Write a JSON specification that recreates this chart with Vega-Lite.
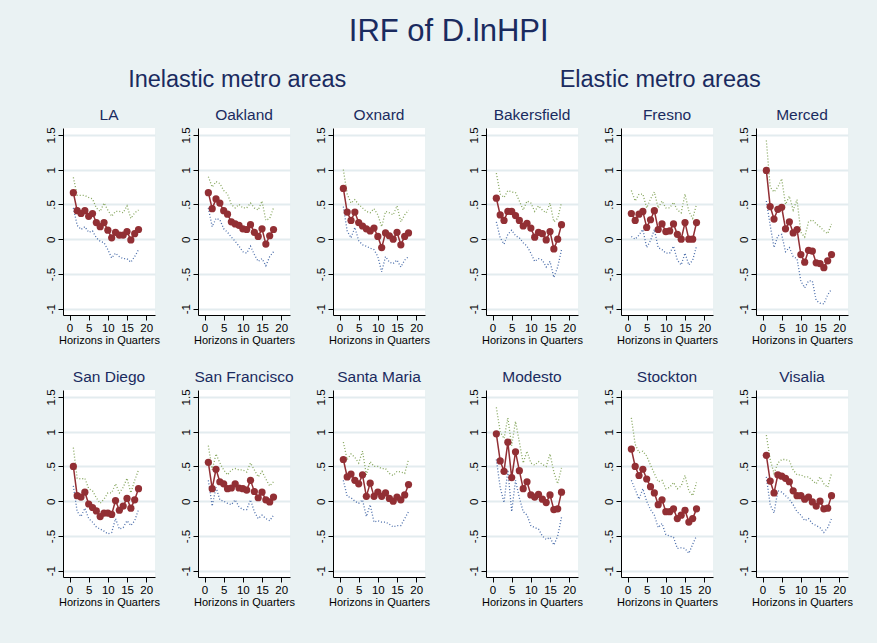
{
  "$schema": "https://vega.github.io/schema/vega-lite/v6.json",
  "background": "#EAF2F3",
  "padding": {"left": 45, "top": 15, "right": 24, "bottom": 44},
  "title": {"text": "IRF of D.lnHPI", "fontSize": 31, "font": "Liberation Sans", "fontWeight": "normal", "color": "#1A2B5F", "anchor": "middle", "offset": 20},
  "spacing": 38,
  "datasets": {
    "irf": [
      {"group":"I","city":"LA","h":1,"irf":0.67,"lo":0.45,"hi":0.89},
      {"group":"I","city":"LA","h":2,"irf":0.41,"lo":0.2,"hi":0.63},
      {"group":"I","city":"LA","h":3,"irf":0.37,"lo":0.14,"hi":0.63},
      {"group":"I","city":"LA","h":4,"irf":0.41,"lo":0.18,"hi":0.63},
      {"group":"I","city":"LA","h":5,"irf":0.33,"lo":0.1,"hi":0.6},
      {"group":"I","city":"LA","h":6,"irf":0.37,"lo":0.12,"hi":0.58},
      {"group":"I","city":"LA","h":7,"irf":0.24,"lo":0.02,"hi":0.45},
      {"group":"I","city":"LA","h":8,"irf":0.18,"lo":-0.03,"hi":0.4},
      {"group":"I","city":"LA","h":9,"irf":0.24,"lo":-0.05,"hi":0.52},
      {"group":"I","city":"LA","h":10,"irf":0.13,"lo":-0.15,"hi":0.42},
      {"group":"I","city":"LA","h":11,"irf":0.02,"lo":-0.27,"hi":0.33},
      {"group":"I","city":"LA","h":12,"irf":0.10,"lo":-0.2,"hi":0.4},
      {"group":"I","city":"LA","h":13,"irf":0.06,"lo":-0.25,"hi":0.4},
      {"group":"I","city":"LA","h":14,"irf":0.06,"lo":-0.28,"hi":0.38},
      {"group":"I","city":"LA","h":15,"irf":0.11,"lo":-0.28,"hi":0.48},
      {"group":"I","city":"LA","h":16,"irf":-0.01,"lo":-0.33,"hi":0.3},
      {"group":"I","city":"LA","h":17,"irf":0.08,"lo":-0.25,"hi":0.38},
      {"group":"I","city":"LA","h":18,"irf":0.14,"lo":-0.15,"hi":0.42},

      {"group":"I","city":"Oakland","h":1,"irf":0.67,"lo":0.45,"hi":0.9},
      {"group":"I","city":"Oakland","h":2,"irf":0.44,"lo":0.18,"hi":0.75},
      {"group":"I","city":"Oakland","h":3,"irf":0.58,"lo":0.3,"hi":0.83},
      {"group":"I","city":"Oakland","h":4,"irf":0.52,"lo":0.28,"hi":0.8},
      {"group":"I","city":"Oakland","h":5,"irf":0.41,"lo":0.15,"hi":0.7},
      {"group":"I","city":"Oakland","h":6,"irf":0.36,"lo":0.1,"hi":0.65},
      {"group":"I","city":"Oakland","h":7,"irf":0.25,"lo":0.03,"hi":0.5},
      {"group":"I","city":"Oakland","h":8,"irf":0.22,"lo":-0.03,"hi":0.45},
      {"group":"I","city":"Oakland","h":9,"irf":0.20,"lo":-0.1,"hi":0.5},
      {"group":"I","city":"Oakland","h":10,"irf":0.15,"lo":-0.18,"hi":0.45},
      {"group":"I","city":"Oakland","h":11,"irf":0.14,"lo":-0.2,"hi":0.45},
      {"group":"I","city":"Oakland","h":12,"irf":0.21,"lo":-0.1,"hi":0.52},
      {"group":"I","city":"Oakland","h":13,"irf":0.10,"lo":-0.22,"hi":0.45},
      {"group":"I","city":"Oakland","h":14,"irf":0.04,"lo":-0.32,"hi":0.42},
      {"group":"I","city":"Oakland","h":15,"irf":0.15,"lo":-0.28,"hi":0.55},
      {"group":"I","city":"Oakland","h":16,"irf":-0.07,"lo":-0.38,"hi":0.27},
      {"group":"I","city":"Oakland","h":17,"irf":0.05,"lo":-0.25,"hi":0.3},
      {"group":"I","city":"Oakland","h":18,"irf":0.14,"lo":-0.18,"hi":0.45},

      {"group":"I","city":"Oxnard","h":1,"irf":0.73,"lo":0.47,"hi":1.0},
      {"group":"I","city":"Oxnard","h":2,"irf":0.39,"lo":0.12,"hi":0.65},
      {"group":"I","city":"Oxnard","h":3,"irf":0.27,"lo":0.02,"hi":0.52},
      {"group":"I","city":"Oxnard","h":4,"irf":0.39,"lo":0.17,"hi":0.57},
      {"group":"I","city":"Oxnard","h":5,"irf":0.24,"lo":-0.02,"hi":0.5},
      {"group":"I","city":"Oxnard","h":6,"irf":0.19,"lo":-0.08,"hi":0.45},
      {"group":"I","city":"Oxnard","h":7,"irf":0.15,"lo":-0.1,"hi":0.4},
      {"group":"I","city":"Oxnard","h":8,"irf":0.12,"lo":-0.13,"hi":0.38},
      {"group":"I","city":"Oxnard","h":9,"irf":0.16,"lo":-0.15,"hi":0.44},
      {"group":"I","city":"Oxnard","h":10,"irf":0.04,"lo":-0.25,"hi":0.35},
      {"group":"I","city":"Oxnard","h":11,"irf":-0.12,"lo":-0.47,"hi":0.18},
      {"group":"I","city":"Oxnard","h":12,"irf":0.09,"lo":-0.25,"hi":0.4},
      {"group":"I","city":"Oxnard","h":13,"irf":0.05,"lo":-0.33,"hi":0.38},
      {"group":"I","city":"Oxnard","h":14,"irf":0.0,"lo":-0.35,"hi":0.35},
      {"group":"I","city":"Oxnard","h":15,"irf":0.10,"lo":-0.3,"hi":0.48},
      {"group":"I","city":"Oxnard","h":16,"irf":-0.08,"lo":-0.4,"hi":0.25},
      {"group":"I","city":"Oxnard","h":17,"irf":0.04,"lo":-0.3,"hi":0.35},
      {"group":"I","city":"Oxnard","h":18,"irf":0.09,"lo":-0.25,"hi":0.42},

      {"group":"I","city":"San Diego","h":1,"irf":0.50,"lo":0.22,"hi":0.77},
      {"group":"I","city":"San Diego","h":2,"irf":0.08,"lo":-0.15,"hi":0.33},
      {"group":"I","city":"San Diego","h":3,"irf":0.06,"lo":-0.22,"hi":0.32},
      {"group":"I","city":"San Diego","h":4,"irf":0.13,"lo":-0.1,"hi":0.33},
      {"group":"I","city":"San Diego","h":5,"irf":-0.04,"lo":-0.25,"hi":0.18},
      {"group":"I","city":"San Diego","h":6,"irf":-0.09,"lo":-0.3,"hi":0.15},
      {"group":"I","city":"San Diego","h":7,"irf":-0.14,"lo":-0.37,"hi":0.05},
      {"group":"I","city":"San Diego","h":8,"irf":-0.22,"lo":-0.4,"hi":-0.03},
      {"group":"I","city":"San Diego","h":9,"irf":-0.17,"lo":-0.43,"hi":0.03},
      {"group":"I","city":"San Diego","h":10,"irf":-0.17,"lo":-0.47,"hi":0.12},
      {"group":"I","city":"San Diego","h":11,"irf":-0.19,"lo":-0.45,"hi":0.12},
      {"group":"I","city":"San Diego","h":12,"irf":0.01,"lo":-0.25,"hi":0.25},
      {"group":"I","city":"San Diego","h":13,"irf":-0.13,"lo":-0.4,"hi":0.12},
      {"group":"I","city":"San Diego","h":14,"irf":-0.07,"lo":-0.38,"hi":0.2},
      {"group":"I","city":"San Diego","h":15,"irf":0.04,"lo":-0.28,"hi":0.33},
      {"group":"I","city":"San Diego","h":16,"irf":-0.10,"lo":-0.35,"hi":0.12},
      {"group":"I","city":"San Diego","h":17,"irf":0.02,"lo":-0.28,"hi":0.3},
      {"group":"I","city":"San Diego","h":18,"irf":0.18,"lo":-0.12,"hi":0.45},

      {"group":"I","city":"San Francisco","h":1,"irf":0.56,"lo":0.3,"hi":0.8},
      {"group":"I","city":"San Francisco","h":2,"irf":0.18,"lo":-0.07,"hi":0.45},
      {"group":"I","city":"San Francisco","h":3,"irf":0.46,"lo":0.2,"hi":0.68},
      {"group":"I","city":"San Francisco","h":4,"irf":0.28,"lo":0.02,"hi":0.55},
      {"group":"I","city":"San Francisco","h":5,"irf":0.25,"lo":0.0,"hi":0.45},
      {"group":"I","city":"San Francisco","h":6,"irf":0.18,"lo":-0.03,"hi":0.38},
      {"group":"I","city":"San Francisco","h":7,"irf":0.19,"lo":-0.05,"hi":0.45},
      {"group":"I","city":"San Francisco","h":8,"irf":0.25,"lo":0.02,"hi":0.47},
      {"group":"I","city":"San Francisco","h":9,"irf":0.19,"lo":-0.08,"hi":0.45},
      {"group":"I","city":"San Francisco","h":10,"irf":0.18,"lo":-0.12,"hi":0.45},
      {"group":"I","city":"San Francisco","h":11,"irf":0.16,"lo":-0.12,"hi":0.42},
      {"group":"I","city":"San Francisco","h":12,"irf":0.30,"lo":0.02,"hi":0.55},
      {"group":"I","city":"San Francisco","h":13,"irf":0.14,"lo":-0.15,"hi":0.45},
      {"group":"I","city":"San Francisco","h":14,"irf":0.05,"lo":-0.25,"hi":0.35},
      {"group":"I","city":"San Francisco","h":15,"irf":0.13,"lo":-0.2,"hi":0.43},
      {"group":"I","city":"San Francisco","h":16,"irf":0.02,"lo":-0.25,"hi":0.32},
      {"group":"I","city":"San Francisco","h":17,"irf":-0.01,"lo":-0.28,"hi":0.22},
      {"group":"I","city":"San Francisco","h":18,"irf":0.06,"lo":-0.2,"hi":0.28},

      {"group":"I","city":"Santa Maria","h":1,"irf":0.60,"lo":0.3,"hi":0.85},
      {"group":"I","city":"Santa Maria","h":2,"irf":0.35,"lo":0.07,"hi":0.6},
      {"group":"I","city":"Santa Maria","h":3,"irf":0.39,"lo":0.05,"hi":0.68},
      {"group":"I","city":"Santa Maria","h":4,"irf":0.30,"lo":0.0,"hi":0.63},
      {"group":"I","city":"Santa Maria","h":5,"irf":0.25,"lo":-0.03,"hi":0.55},
      {"group":"I","city":"Santa Maria","h":6,"irf":0.38,"lo":0.02,"hi":0.72},
      {"group":"I","city":"Santa Maria","h":7,"irf":0.07,"lo":-0.22,"hi":0.38},
      {"group":"I","city":"Santa Maria","h":8,"irf":0.26,"lo":-0.05,"hi":0.57},
      {"group":"I","city":"Santa Maria","h":9,"irf":0.07,"lo":-0.3,"hi":0.5},
      {"group":"I","city":"Santa Maria","h":10,"irf":0.13,"lo":-0.28,"hi":0.5},
      {"group":"I","city":"Santa Maria","h":11,"irf":0.07,"lo":-0.3,"hi":0.47},
      {"group":"I","city":"Santa Maria","h":12,"irf":0.12,"lo":-0.3,"hi":0.47},
      {"group":"I","city":"Santa Maria","h":13,"irf":0.04,"lo":-0.33,"hi":0.4},
      {"group":"I","city":"Santa Maria","h":14,"irf":0.0,"lo":-0.37,"hi":0.37},
      {"group":"I","city":"Santa Maria","h":15,"irf":0.06,"lo":-0.35,"hi":0.43},
      {"group":"I","city":"Santa Maria","h":16,"irf":0.02,"lo":-0.35,"hi":0.42},
      {"group":"I","city":"Santa Maria","h":17,"irf":0.09,"lo":-0.25,"hi":0.4},
      {"group":"I","city":"Santa Maria","h":18,"irf":0.24,"lo":-0.15,"hi":0.6},

      {"group":"E","city":"Bakersfield","h":1,"irf":0.59,"lo":0.25,"hi":0.95},
      {"group":"E","city":"Bakersfield","h":2,"irf":0.35,"lo":0.02,"hi":0.65},
      {"group":"E","city":"Bakersfield","h":3,"irf":0.27,"lo":-0.07,"hi":0.6},
      {"group":"E","city":"Bakersfield","h":4,"irf":0.40,"lo":0.07,"hi":0.7},
      {"group":"E","city":"Bakersfield","h":5,"irf":0.40,"lo":0.13,"hi":0.68},
      {"group":"E","city":"Bakersfield","h":6,"irf":0.34,"lo":0.05,"hi":0.67},
      {"group":"E","city":"Bakersfield","h":7,"irf":0.27,"lo":0.02,"hi":0.55},
      {"group":"E","city":"Bakersfield","h":8,"irf":0.19,"lo":-0.05,"hi":0.42},
      {"group":"E","city":"Bakersfield","h":9,"irf":0.23,"lo":-0.1,"hi":0.55},
      {"group":"E","city":"Bakersfield","h":10,"irf":0.16,"lo":-0.2,"hi":0.52},
      {"group":"E","city":"Bakersfield","h":11,"irf":0.03,"lo":-0.32,"hi":0.4},
      {"group":"E","city":"Bakersfield","h":12,"irf":0.10,"lo":-0.28,"hi":0.48},
      {"group":"E","city":"Bakersfield","h":13,"irf":0.08,"lo":-0.3,"hi":0.42},
      {"group":"E","city":"Bakersfield","h":14,"irf":-0.01,"lo":-0.4,"hi":0.38},
      {"group":"E","city":"Bakersfield","h":15,"irf":0.11,"lo":-0.32,"hi":0.52},
      {"group":"E","city":"Bakersfield","h":16,"irf":-0.14,"lo":-0.55,"hi":0.25},
      {"group":"E","city":"Bakersfield","h":17,"irf":0.0,"lo":-0.4,"hi":0.3},
      {"group":"E","city":"Bakersfield","h":18,"irf":0.21,"lo":-0.15,"hi":0.53},

      {"group":"E","city":"Fresno","h":1,"irf":0.37,"lo":0.04,"hi":0.7},
      {"group":"E","city":"Fresno","h":2,"irf":0.27,"lo":0.0,"hi":0.55},
      {"group":"E","city":"Fresno","h":3,"irf":0.36,"lo":0.06,"hi":0.65},
      {"group":"E","city":"Fresno","h":4,"irf":0.40,"lo":0.14,"hi":0.65},
      {"group":"E","city":"Fresno","h":5,"irf":0.17,"lo":-0.12,"hi":0.45},
      {"group":"E","city":"Fresno","h":6,"irf":0.28,"lo":-0.02,"hi":0.58},
      {"group":"E","city":"Fresno","h":7,"irf":0.41,"lo":0.14,"hi":0.68},
      {"group":"E","city":"Fresno","h":8,"irf":0.14,"lo":-0.12,"hi":0.45},
      {"group":"E","city":"Fresno","h":9,"irf":0.22,"lo":-0.15,"hi":0.55},
      {"group":"E","city":"Fresno","h":10,"irf":0.11,"lo":-0.2,"hi":0.45},
      {"group":"E","city":"Fresno","h":11,"irf":0.12,"lo":-0.2,"hi":0.45},
      {"group":"E","city":"Fresno","h":12,"irf":0.22,"lo":-0.1,"hi":0.53},
      {"group":"E","city":"Fresno","h":13,"irf":0.07,"lo":-0.3,"hi":0.42},
      {"group":"E","city":"Fresno","h":14,"irf":0.0,"lo":-0.37,"hi":0.38},
      {"group":"E","city":"Fresno","h":15,"irf":0.24,"lo":-0.2,"hi":0.65},
      {"group":"E","city":"Fresno","h":16,"irf":0.0,"lo":-0.37,"hi":0.4},
      {"group":"E","city":"Fresno","h":17,"irf":0.0,"lo":-0.3,"hi":0.3},
      {"group":"E","city":"Fresno","h":18,"irf":0.24,"lo":-0.1,"hi":0.5},

      {"group":"E","city":"Merced","h":1,"irf":0.99,"lo":0.55,"hi":1.42},
      {"group":"E","city":"Merced","h":2,"irf":0.47,"lo":0.2,"hi":0.75},
      {"group":"E","city":"Merced","h":3,"irf":0.29,"lo":-0.12,"hi":0.68},
      {"group":"E","city":"Merced","h":4,"irf":0.43,"lo":0.05,"hi":0.75},
      {"group":"E","city":"Merced","h":5,"irf":0.46,"lo":0.07,"hi":0.87},
      {"group":"E","city":"Merced","h":6,"irf":0.15,"lo":-0.18,"hi":0.5},
      {"group":"E","city":"Merced","h":7,"irf":0.25,"lo":-0.12,"hi":0.62},
      {"group":"E","city":"Merced","h":8,"irf":0.09,"lo":-0.25,"hi":0.42},
      {"group":"E","city":"Merced","h":9,"irf":0.14,"lo":-0.28,"hi":0.57},
      {"group":"E","city":"Merced","h":10,"irf":-0.22,"lo":-0.6,"hi":0.1},
      {"group":"E","city":"Merced","h":11,"irf":-0.33,"lo":-0.7,"hi":0.03},
      {"group":"E","city":"Merced","h":12,"irf":-0.16,"lo":-0.6,"hi":0.25},
      {"group":"E","city":"Merced","h":13,"irf":-0.17,"lo":-0.6,"hi":0.28},
      {"group":"E","city":"Merced","h":14,"irf":-0.34,"lo":-0.88,"hi":0.22},
      {"group":"E","city":"Merced","h":15,"irf":-0.35,"lo":-0.92,"hi":0.18},
      {"group":"E","city":"Merced","h":16,"irf":-0.41,"lo":-0.93,"hi":0.12},
      {"group":"E","city":"Merced","h":17,"irf":-0.31,"lo":-0.8,"hi":0.08},
      {"group":"E","city":"Merced","h":18,"irf":-0.22,"lo":-0.72,"hi":0.22},

      {"group":"E","city":"Modesto","h":1,"irf":0.97,"lo":0.6,"hi":1.35},
      {"group":"E","city":"Modesto","h":2,"irf":0.58,"lo":0.2,"hi":1.0},
      {"group":"E","city":"Modesto","h":3,"irf":0.43,"lo":-0.02,"hi":0.9},
      {"group":"E","city":"Modesto","h":4,"irf":0.85,"lo":0.45,"hi":1.2},
      {"group":"E","city":"Modesto","h":5,"irf":0.34,"lo":-0.15,"hi":0.8},
      {"group":"E","city":"Modesto","h":6,"irf":0.71,"lo":0.3,"hi":1.15},
      {"group":"E","city":"Modesto","h":7,"irf":0.44,"lo":0.05,"hi":0.85},
      {"group":"E","city":"Modesto","h":8,"irf":0.18,"lo":-0.15,"hi":0.55},
      {"group":"E","city":"Modesto","h":9,"irf":0.28,"lo":-0.2,"hi":0.72},
      {"group":"E","city":"Modesto","h":10,"irf":0.09,"lo":-0.35,"hi":0.55},
      {"group":"E","city":"Modesto","h":11,"irf":0.06,"lo":-0.38,"hi":0.52},
      {"group":"E","city":"Modesto","h":12,"irf":0.10,"lo":-0.4,"hi":0.57},
      {"group":"E","city":"Modesto","h":13,"irf":0.03,"lo":-0.5,"hi":0.53},
      {"group":"E","city":"Modesto","h":14,"irf":-0.02,"lo":-0.55,"hi":0.5},
      {"group":"E","city":"Modesto","h":15,"irf":0.09,"lo":-0.52,"hi":0.68},
      {"group":"E","city":"Modesto","h":16,"irf":-0.12,"lo":-0.63,"hi":0.42},
      {"group":"E","city":"Modesto","h":17,"irf":-0.11,"lo":-0.5,"hi":0.25},
      {"group":"E","city":"Modesto","h":18,"irf":0.13,"lo":-0.23,"hi":0.48},

      {"group":"E","city":"Stockton","h":1,"irf":0.75,"lo":0.3,"hi":1.2},
      {"group":"E","city":"Stockton","h":2,"irf":0.50,"lo":0.17,"hi":0.82},
      {"group":"E","city":"Stockton","h":3,"irf":0.37,"lo":0.03,"hi":0.7},
      {"group":"E","city":"Stockton","h":4,"irf":0.46,"lo":0.18,"hi":0.72},
      {"group":"E","city":"Stockton","h":5,"irf":0.32,"lo":0.0,"hi":0.65},
      {"group":"E","city":"Stockton","h":6,"irf":0.21,"lo":-0.12,"hi":0.52},
      {"group":"E","city":"Stockton","h":7,"irf":0.12,"lo":-0.2,"hi":0.4},
      {"group":"E","city":"Stockton","h":8,"irf":-0.05,"lo":-0.38,"hi":0.28},
      {"group":"E","city":"Stockton","h":9,"irf":0.02,"lo":-0.32,"hi":0.3},
      {"group":"E","city":"Stockton","h":10,"irf":-0.15,"lo":-0.48,"hi":0.18},
      {"group":"E","city":"Stockton","h":11,"irf":-0.15,"lo":-0.5,"hi":0.2},
      {"group":"E","city":"Stockton","h":12,"irf":-0.11,"lo":-0.52,"hi":0.27},
      {"group":"E","city":"Stockton","h":13,"irf":-0.25,"lo":-0.68,"hi":0.18},
      {"group":"E","city":"Stockton","h":14,"irf":-0.20,"lo":-0.67,"hi":0.22},
      {"group":"E","city":"Stockton","h":15,"irf":-0.13,"lo":-0.68,"hi":0.37},
      {"group":"E","city":"Stockton","h":16,"irf":-0.30,"lo":-0.75,"hi":0.15},
      {"group":"E","city":"Stockton","h":17,"irf":-0.25,"lo":-0.62,"hi":0.08},
      {"group":"E","city":"Stockton","h":18,"irf":-0.11,"lo":-0.5,"hi":0.27},

      {"group":"E","city":"Visalia","h":1,"irf":0.66,"lo":0.35,"hi":0.95},
      {"group":"E","city":"Visalia","h":2,"irf":0.29,"lo":-0.05,"hi":0.6},
      {"group":"E","city":"Visalia","h":3,"irf":0.12,"lo":-0.17,"hi":0.4},
      {"group":"E","city":"Visalia","h":4,"irf":0.38,"lo":0.15,"hi":0.55},
      {"group":"E","city":"Visalia","h":5,"irf":0.36,"lo":0.13,"hi":0.6},
      {"group":"E","city":"Visalia","h":6,"irf":0.33,"lo":0.08,"hi":0.6},
      {"group":"E","city":"Visalia","h":7,"irf":0.28,"lo":0.03,"hi":0.58},
      {"group":"E","city":"Visalia","h":8,"irf":0.15,"lo":-0.05,"hi":0.45},
      {"group":"E","city":"Visalia","h":9,"irf":0.08,"lo":-0.15,"hi":0.38},
      {"group":"E","city":"Visalia","h":10,"irf":0.08,"lo":-0.2,"hi":0.38},
      {"group":"E","city":"Visalia","h":11,"irf":0.03,"lo":-0.28,"hi":0.35},
      {"group":"E","city":"Visalia","h":12,"irf":0.06,"lo":-0.25,"hi":0.35},
      {"group":"E","city":"Visalia","h":13,"irf":-0.01,"lo":-0.32,"hi":0.3},
      {"group":"E","city":"Visalia","h":14,"irf":-0.07,"lo":-0.35,"hi":0.25},
      {"group":"E","city":"Visalia","h":15,"irf":0.0,"lo":-0.38,"hi":0.35},
      {"group":"E","city":"Visalia","h":16,"irf":-0.11,"lo":-0.45,"hi":0.25},
      {"group":"E","city":"Visalia","h":17,"irf":-0.10,"lo":-0.38,"hi":0.2},
      {"group":"E","city":"Visalia","h":18,"irf":0.08,"lo":-0.25,"hi":0.4}
    ]
  },
  "hconcat": [
    {
      "title": {"text": "Inelastic metro areas", "fontSize": 23.5, "font": "Liberation Sans", "fontWeight": "normal", "color": "#1A2B5F", "anchor": "middle", "offset": 17},
      "data": {"name": "irf"},
      "transform": [{"filter": "datum.group == 'I'"}],
      "facet": {"field": "city", "type": "nominal", "header": {"title": null}},
      "columns": 3,
      "spacing": {"column": 20, "row": 24},
      "resolve": {"axis": {"x": "independent", "y": "independent"}},
      "spec": {
        "width": 92,
        "height": 187,
        "layer": [
          {"mark": {"type": "line", "color": "#86A65E", "strokeDash": [1, 2], "strokeWidth": 1.3},
           "encoding": {
             "x": {"field": "h", "type": "quantitative", "scale": {"domain": [-1.7, 22.3], "nice": false, "zero": false}, "axis": {"values": [0, 5, 10, 15, 20], "title": "Horizons in Quarters", "grid": false}},
             "y": {"field": "hi", "type": "quantitative", "scale": {"domain": [-1.09, 1.6], "nice": false, "zero": false}, "axis": {"values": [-1, -0.5, 0, 0.5, 1, 1.5], "title": null, "labelAngle": -90, "labelExpr": "datum.value == -0.5 ? '-.5' : datum.value == 0.5 ? '.5' : datum.value == -1 ? '-1' : toString(datum.value)"}}}},
          {"mark": {"type": "line", "color": "#4A6DAA", "strokeDash": [1, 2], "strokeWidth": 1.3},
           "encoding": {
             "x": {"field": "h", "type": "quantitative", "scale": {"domain": [-1.7, 22.3], "nice": false, "zero": false}, "axis": {"values": [0, 5, 10, 15, 20], "title": "Horizons in Quarters", "grid": false}},
             "y": {"field": "lo", "type": "quantitative", "scale": {"domain": [-1.09, 1.6], "nice": false, "zero": false}, "axis": {"values": [-1, -0.5, 0, 0.5, 1, 1.5], "title": null, "labelAngle": -90, "labelExpr": "datum.value == -0.5 ? '-.5' : datum.value == 0.5 ? '.5' : datum.value == -1 ? '-1' : toString(datum.value)"}}}},
          {"mark": {"type": "line", "color": "#922F34", "strokeWidth": 1.5},
           "encoding": {
             "x": {"field": "h", "type": "quantitative", "scale": {"domain": [-1.7, 22.3], "nice": false, "zero": false}, "axis": {"values": [0, 5, 10, 15, 20], "title": "Horizons in Quarters", "grid": false}},
             "y": {"field": "irf", "type": "quantitative", "scale": {"domain": [-1.09, 1.6], "nice": false, "zero": false}, "axis": {"values": [-1, -0.5, 0, 0.5, 1, 1.5], "title": null, "labelAngle": -90, "labelExpr": "datum.value == -0.5 ? '-.5' : datum.value == 0.5 ? '.5' : datum.value == -1 ? '-1' : toString(datum.value)"}}}},
          {"mark": {"type": "point", "filled": true, "color": "#922F34", "size": 52, "opacity": 1},
           "encoding": {
             "x": {"field": "h", "type": "quantitative", "scale": {"domain": [-1.7, 22.3], "nice": false, "zero": false}, "axis": {"values": [0, 5, 10, 15, 20], "title": "Horizons in Quarters", "grid": false}},
             "y": {"field": "irf", "type": "quantitative", "scale": {"domain": [-1.09, 1.6], "nice": false, "zero": false}, "axis": {"values": [-1, -0.5, 0, 0.5, 1, 1.5], "title": null, "labelAngle": -90, "labelExpr": "datum.value == -0.5 ? '-.5' : datum.value == 0.5 ? '.5' : datum.value == -1 ? '-1' : toString(datum.value)"}}}}
        ]
      }
    },
    {
      "title": {"text": "Elastic metro areas", "fontSize": 23.5, "font": "Liberation Sans", "fontWeight": "normal", "color": "#1A2B5F", "anchor": "middle", "offset": 17},
      "data": {"name": "irf"},
      "transform": [{"filter": "datum.group == 'E'"}],
      "facet": {"field": "city", "type": "nominal", "header": {"title": null}},
      "columns": 3,
      "spacing": {"column": 20, "row": 24},
      "resolve": {"axis": {"x": "independent", "y": "independent"}},
      "spec": {
        "width": 92,
        "height": 187,
        "layer": [
          {"mark": {"type": "line", "color": "#86A65E", "strokeDash": [1, 2], "strokeWidth": 1.3},
           "encoding": {
             "x": {"field": "h", "type": "quantitative", "scale": {"domain": [-1.7, 22.3], "nice": false, "zero": false}, "axis": {"values": [0, 5, 10, 15, 20], "title": "Horizons in Quarters", "grid": false}},
             "y": {"field": "hi", "type": "quantitative", "scale": {"domain": [-1.09, 1.6], "nice": false, "zero": false}, "axis": {"values": [-1, -0.5, 0, 0.5, 1, 1.5], "title": null, "labelAngle": -90, "labelExpr": "datum.value == -0.5 ? '-.5' : datum.value == 0.5 ? '.5' : datum.value == -1 ? '-1' : toString(datum.value)"}}}},
          {"mark": {"type": "line", "color": "#4A6DAA", "strokeDash": [1, 2], "strokeWidth": 1.3},
           "encoding": {
             "x": {"field": "h", "type": "quantitative", "scale": {"domain": [-1.7, 22.3], "nice": false, "zero": false}, "axis": {"values": [0, 5, 10, 15, 20], "title": "Horizons in Quarters", "grid": false}},
             "y": {"field": "lo", "type": "quantitative", "scale": {"domain": [-1.09, 1.6], "nice": false, "zero": false}, "axis": {"values": [-1, -0.5, 0, 0.5, 1, 1.5], "title": null, "labelAngle": -90, "labelExpr": "datum.value == -0.5 ? '-.5' : datum.value == 0.5 ? '.5' : datum.value == -1 ? '-1' : toString(datum.value)"}}}},
          {"mark": {"type": "line", "color": "#922F34", "strokeWidth": 1.5},
           "encoding": {
             "x": {"field": "h", "type": "quantitative", "scale": {"domain": [-1.7, 22.3], "nice": false, "zero": false}, "axis": {"values": [0, 5, 10, 15, 20], "title": "Horizons in Quarters", "grid": false}},
             "y": {"field": "irf", "type": "quantitative", "scale": {"domain": [-1.09, 1.6], "nice": false, "zero": false}, "axis": {"values": [-1, -0.5, 0, 0.5, 1, 1.5], "title": null, "labelAngle": -90, "labelExpr": "datum.value == -0.5 ? '-.5' : datum.value == 0.5 ? '.5' : datum.value == -1 ? '-1' : toString(datum.value)"}}}},
          {"mark": {"type": "point", "filled": true, "color": "#922F34", "size": 52, "opacity": 1},
           "encoding": {
             "x": {"field": "h", "type": "quantitative", "scale": {"domain": [-1.7, 22.3], "nice": false, "zero": false}, "axis": {"values": [0, 5, 10, 15, 20], "title": "Horizons in Quarters", "grid": false}},
             "y": {"field": "irf", "type": "quantitative", "scale": {"domain": [-1.09, 1.6], "nice": false, "zero": false}, "axis": {"values": [-1, -0.5, 0, 0.5, 1, 1.5], "title": null, "labelAngle": -90, "labelExpr": "datum.value == -0.5 ? '-.5' : datum.value == 0.5 ? '.5' : datum.value == -1 ? '-1' : toString(datum.value)"}}}}
        ]
      }
    }
  ],
  "config": {
    "font": "Liberation Sans",
    "view": {"fill": "white", "stroke": null},
    "axis": {"domainColor": "#000000", "tickColor": "#000000", "labelColor": "#000000", "labelFont": "Liberation Sans", "labelFontSize": 11.5, "titleFont": "Liberation Sans", "titleFontSize": 11, "titleFontWeight": "normal", "titleColor": "#000000", "tickSize": 5, "domainWidth": 1, "tickWidth": 1},
    "axisY": {"grid": true, "gridColor": "#E3ECEF", "gridWidth": 2, "labelPadding": 2},
    "axisX": {"labelPadding": 2, "titlePadding": 1},
    "header": {"labelFontSize": 15.5, "labelColor": "#1A2B5F", "labelFont": "Liberation Sans", "labelPadding": 3}
  }
}
